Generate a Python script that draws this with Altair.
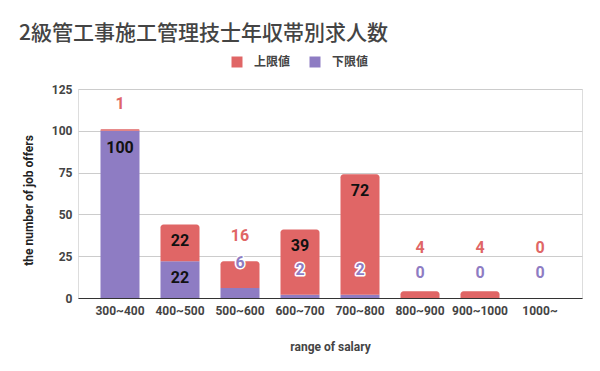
import altair as alt
import pandas as pd

categories = ["300~400", "400~500", "500~600", "600~700", "700~800", "800~900", "900~1000", "1000~"]
upper = [1, 22, 16, 39, 72, 4, 4, 0]      # 上限値
lower = [100, 22, 6, 2, 2, 0, 0, 0]       # 下限値

RED = "#e06666"
PURPLE = "#8e7cc3"
PLOT_W, PLOT_H = 504, 209
YMAX = 125
PX = PLOT_H / YMAX

bars = []
labels = []
for c, lo, up in zip(categories, lower, upper):
    top = lo + up
    bars.append(dict(category=c, series="下限値", start=0, end=lo, layer="low"))
    bars.append(dict(category=c, series="上限値", start=lo, end=top, layer="up"))
    # label placement (inside end / outside, avoiding overlaps)
    if lo * PX >= 20:
        p_place, p_px = "in", lo * PX - 17
    else:
        p_place, p_px = "out", lo * PX + 25
    labels.append(dict(category=c, series="下限値", anchor=lo, place=p_place, label=str(lo)))
    if up * PX >= 20 and (p_place == "in" or abs((top * PX - 16) - p_px) >= 18):
        r_place, r_anchor = "in", top
    elif p_place == "in" or (top * PX + 25) - p_px >= 18:
        r_place, r_anchor = "out", top
    else:
        r_place, r_anchor = "out2", lo
    labels.append(dict(category=c, series="上限値", anchor=r_anchor, place=r_place, label=str(up)))

bar_df = pd.DataFrame(bars)
lab_df = pd.DataFrame(labels)

color_scale = alt.Scale(domain=["上限値", "下限値"], range=[RED, PURPLE])

x_enc = alt.X(
    "category:N",
    sort=categories,
    scale=alt.Scale(paddingInner=0.35, paddingOuter=0.375),
    axis=alt.Axis(
        title="range of salary", labelAngle=0, ticks=False, grid=False,
        domainColor="#333333", domainWidth=1,
        labelFont="Roboto", labelFontSize=12, labelColor="#444444", labelFontWeight="bold",
        labelPadding=7,
        titleFont="Roboto", titleFontSize=12, titleColor="#444444", titleFontWeight="bold",
        titleY=48, titleBaseline="middle",
    ),
)
y_axis = alt.Axis(
    values=[0, 25, 50, 75, 100, 125], title="the number of job offers",
    domain=False, ticks=False, gridColor="#cccccc", gridWidth=1,
    labelFont="Roboto", labelFontSize=12, labelColor="#444444", labelFontWeight="bold",
    labelPadding=6,
    titleFont="Roboto", titleFontSize=12, titleColor="#222222", titleFontWeight="bold",
    titleX=-50, titleY=111, titleAngle=-90, titleBaseline="middle", titleAlign="center",
)

base_bar = alt.Chart(bar_df)
low_bars = base_bar.transform_filter(alt.datum.layer == "low").mark_bar().encode(
    x=x_enc,
    y=alt.Y("start:Q", scale=alt.Scale(domain=[0, YMAX], nice=False), axis=y_axis),
    y2="end:Q",
    color=alt.Color("series:N", scale=color_scale, sort=["上限値", "下限値"],
                    legend=alt.Legend(
                        title=None, orient="none", direction="horizontal",
                        legendX=153, legendY=-33, symbolType="square", symbolSize=121,
                        symbolStrokeWidth=0, labelFont="Noto Sans CJK JP", labelFontSize=12,
                        labelColor="#444444", labelFontWeight="bold", labelOffset=11,
                        columnPadding=18)),
)
up_bars = base_bar.transform_filter(alt.datum.layer == "up").mark_bar(
    cornerRadiusTopLeft=3, cornerRadiusTopRight=3
).encode(
    x=alt.X("category:N", sort=categories),
    y=alt.Y("start:Q"),
    y2="end:Q",
    color=alt.Color("series:N", scale=color_scale),
)

base_lab = alt.Chart(lab_df)
font_kw = dict(font="Roboto", fontSize=16, fontWeight="bold", baseline="middle", align="center")

inside = base_lab.transform_filter(alt.datum.place == "in").mark_text(
    dy=17, color="#111111", **font_kw
).encode(x=alt.X("category:N", sort=categories), y=alt.Y("anchor:Q"), text="label:N")


def outside(place, dy):
    src = base_lab.transform_filter(alt.datum.place == place)
    halo = src.mark_text(dy=dy, stroke="white", strokeWidth=3, strokeJoin="round",
                         fill="white", **font_kw).encode(
        x=alt.X("category:N", sort=categories), y=alt.Y("anchor:Q"), text="label:N")
    fill = src.mark_text(dy=dy, **font_kw).encode(
        x=alt.X("category:N", sort=categories), y=alt.Y("anchor:Q"), text="label:N",
        color=alt.Color("series:N", scale=color_scale, legend=None))
    return [halo, fill]


layers = [low_bars, up_bars, inside] + outside("out", -25) + outside("out2", -50)

chart = alt.layer(*layers).properties(
    width=PLOT_W, height=PLOT_H,
    title=alt.TitleParams(
        "2級管工事施工管理技士年収帯別求人数", anchor="start", frame="group",
        dx=-59, dy=29, offset=41, font="Noto Sans CJK JP", fontSize=21, fontWeight=500,
        color="#444444",
    ),
    autosize=alt.AutoSizeParams(type="none"),
    padding={"left": 70, "top": 81, "right": 10, "bottom": 65},
).configure_view(stroke=None).configure(background="white")

chart.save("out.html", embed_options={"renderer": "svg", "actions": False})
